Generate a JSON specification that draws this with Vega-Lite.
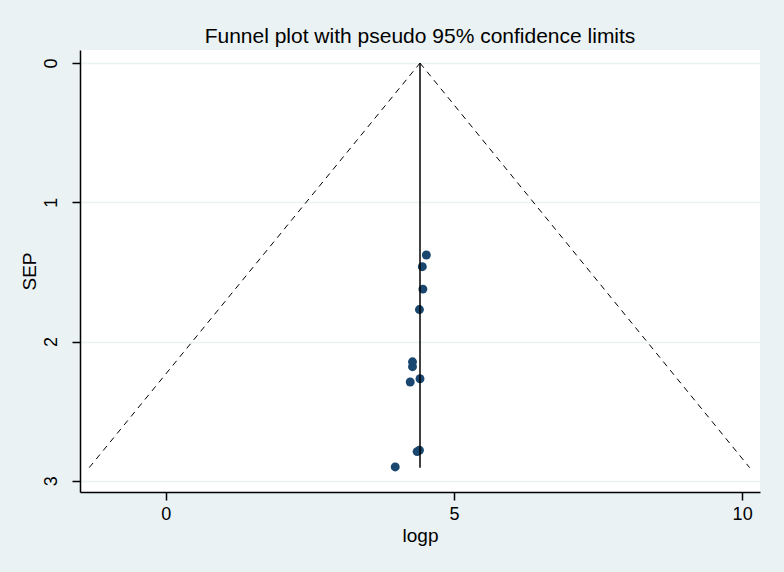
{
  "$schema": "https://vega.github.io/schema/vega-lite/v6.json",
  "width": 680,
  "height": 442,
  "autosize": {"type": "none"},
  "padding": {"left": 80, "top": 50, "right": 24, "bottom": 80},
  "background": "#EAF2F3",
  "title": {
    "text": "Funnel plot with pseudo 95% confidence limits",
    "font": "Liberation Sans",
    "fontSize": 21,
    "fontWeight": "normal",
    "color": "#000000",
    "anchor": "middle",
    "offset": 3
  },
  "config": {
    "view": {"fill": "#FFFFFF", "stroke": null},
    "axis": {
      "labelFont": "Liberation Sans",
      "titleFont": "Liberation Sans",
      "labelFontSize": 18,
      "titleFontSize": 19,
      "titleFontWeight": "normal",
      "labelColor": "#000000",
      "titleColor": "#000000",
      "domainColor": "#000000",
      "tickColor": "#000000",
      "domainWidth": 1.5,
      "tickWidth": 1.5,
      "tickSize": 8
    }
  },
  "datasets": {
    "studies": [
      {"logp": 4.52, "SEP": 1.378},
      {"logp": 4.45, "SEP": 1.462},
      {"logp": 4.46, "SEP": 1.623},
      {"logp": 4.40, "SEP": 1.77},
      {"logp": 4.28, "SEP": 2.145},
      {"logp": 4.28, "SEP": 2.18},
      {"logp": 4.41, "SEP": 2.267},
      {"logp": 4.24, "SEP": 2.29},
      {"logp": 4.40, "SEP": 2.78},
      {"logp": 4.36, "SEP": 2.79},
      {"logp": 3.98, "SEP": 2.90}
    ],
    "funnel": [
      {"side": "lower", "order": 1, "logp": -1.33, "SEP": 2.905},
      {"side": "lower", "order": 2, "logp": 4.41, "SEP": 0},
      {"side": "upper", "order": 1, "logp": 4.41, "SEP": 0},
      {"side": "upper", "order": 2, "logp": 10.13, "SEP": 2.905}
    ],
    "center": [
      {"logp": 4.41, "SEP": 0},
      {"logp": 4.41, "SEP": 2.905}
    ]
  },
  "encoding": {
    "x": {
      "field": "logp",
      "type": "quantitative",
      "scale": {"domain": [-1.49, 10.31], "nice": false, "zero": false},
      "axis": {"values": [0, 5, 10], "grid": false, "title": "logp", "labelPadding": 5, "titlePadding": 3}
    },
    "y": {
      "field": "SEP",
      "type": "quantitative",
      "scale": {"domain": [-0.094, 3.08], "nice": false, "zero": false, "reverse": true},
      "axis": {
        "values": [0, 1, 2, 3],
        "grid": true,
        "gridColor": "#EAF2F3",
        "gridWidth": 1.5,
        "title": "SEP",
        "labelAngle": -90,
        "labelAlign": "center",
        "labelBaseline": "bottom",
        "labelPadding": 12,
        "titlePadding": 3
      }
    }
  },
  "layer": [
    {
      "data": {"name": "funnel"},
      "mark": {"type": "line", "color": "#000000", "strokeWidth": 1, "strokeDash": [6, 5]},
      "encoding": {"detail": {"field": "side"}, "order": {"field": "order"}}
    },
    {
      "data": {"name": "studies"},
      "mark": {"type": "point", "filled": true, "shape": "circle", "color": "#1A476F", "opacity": 1, "size": 80}
    },
    {
      "data": {"name": "center"},
      "mark": {"type": "line", "color": "#000000", "strokeWidth": 1.5},
      "encoding": {}
    }
  ]
}
